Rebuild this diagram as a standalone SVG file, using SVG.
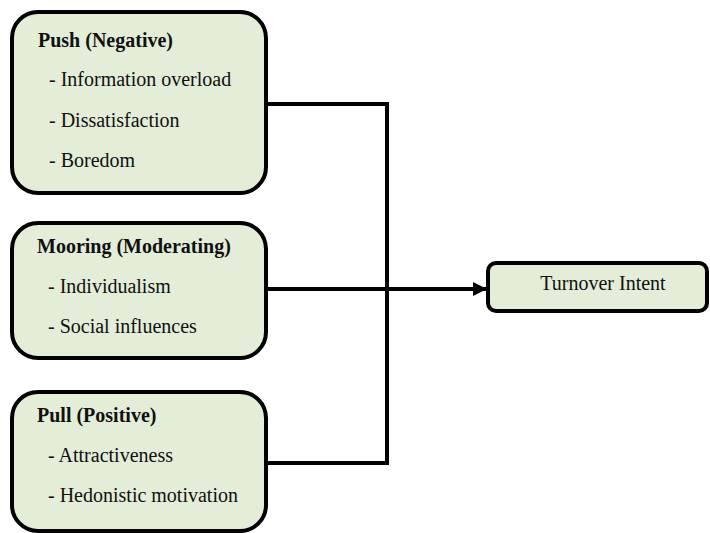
<svg xmlns="http://www.w3.org/2000/svg" width="710" height="533" viewBox="0 0 710 533">
<style>
.box{fill:#E3EDD8;stroke:#000;stroke-width:4}
.t{font-family:"Liberation Serif","Times New Roman",serif;font-size:20px;fill:#111}
.b{font-weight:bold}
.ln{fill:none;stroke:#000;stroke-width:4}
</style>
<defs>
<marker id="ah" markerUnits="userSpaceOnUse" markerWidth="16" markerHeight="14" refX="14" refY="7" orient="auto">
<path d="M0,0 L14,7 L0,14 Z" fill="#000"/>
</marker>
</defs>
<g id="connectors">
<polyline class="ln" points="266,104 387,104 387,463 266,463"/>
<line class="ln" x1="266" y1="289" x2="487" y2="289" marker-end="url(#ah)"/>
</g>
<g id="push">
<rect class="box" x="12" y="12" width="254" height="181" rx="26"/>
<text class="t b" x="38" y="47">Push (Negative)</text>
<text class="t" x="49" y="86">- Information overload</text>
<text class="t" x="49" y="127">- Dissatisfaction</text>
<text class="t" x="49" y="167">- Boredom</text>
</g>
<g id="mooring">
<rect class="box" x="12" y="223" width="254" height="135" rx="26"/>
<text class="t b" x="37" y="253">Mooring (Moderating)</text>
<text class="t" x="48" y="293">- Individualism</text>
<text class="t" x="48" y="333">- Social influences</text>
</g>
<g id="pull">
<rect class="box" x="12" y="392" width="254" height="139" rx="26"/>
<text class="t b" x="37" y="422">Pull (Positive)</text>
<text class="t" x="48" y="462">- Attractiveness</text>
<text class="t" x="48" y="502">- Hedonistic motivation</text>
</g>
<g id="turnover">
<rect class="box" x="488" y="263" width="219" height="48" rx="8"/>
<text class="t" x="603" y="290" text-anchor="middle">Turnover Intent</text>
</g>
</svg>
